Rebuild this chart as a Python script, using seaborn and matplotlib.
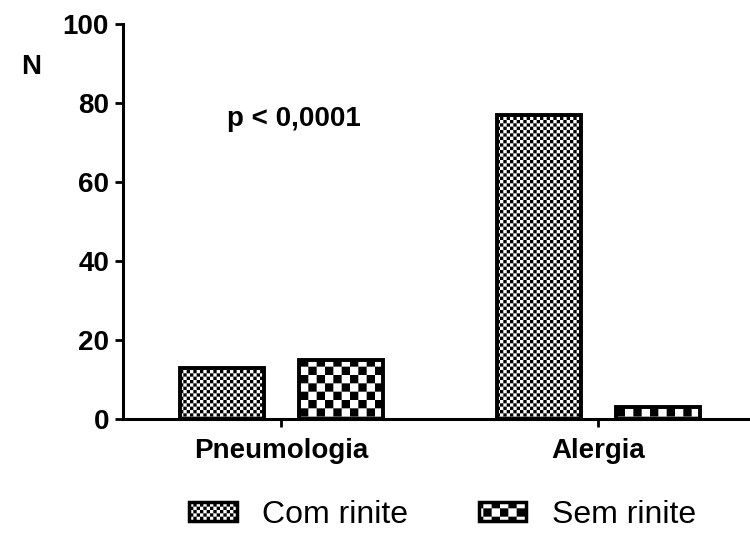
import numpy as np
import pandas as pd
import matplotlib
matplotlib.use('Agg')
import matplotlib.pyplot as plt
import matplotlib.hatch as mhatch
from matplotlib.path import Path
from matplotlib.patches import Patch
import seaborn as sns

# ---------------- data ----------------
categories = ['Pneumologia', 'Alergia']
groups = ['Com rinite', 'Sem rinite']
com_rinite = [13, 77]
sem_rinite = [15, 3]
y_ticks = [0, 20, 40, 60, 80, 100]
annotation = 'p < 0,0001'
y_label = 'N'


# ------------- checkerboard hatch (style only) -------------
class CheckerHatch(mhatch.HatchPatternBase):
    """'.' -> fine checkerboard, 'O' -> coarse checkerboard."""
    def __init__(self, hatch, density):
        self.n = 0
        if '.' in hatch:
            self.n = 30
        elif 'O' in hatch:
            self.n = 12
        self.num_vertices = (self.n * self.n // 2) * 5 if self.n else 0

    def set_vertices_and_codes(self, vertices, codes):
        s = 1.0 / self.n
        sq = np.array([[0, 0], [s, 0], [s, s], [0, s], [0, 0]], float)
        cd = [Path.MOVETO, Path.LINETO, Path.LINETO, Path.LINETO, Path.CLOSEPOLY]
        k = 0
        for r in range(self.n):
            for c in range(self.n):
                if (r + c) % 2 == 0:
                    vertices[k * 5:(k + 1) * 5] = sq + [c * s, r * s]
                    codes[k * 5:(k + 1) * 5] = cd
                    k += 1


mhatch._hatch_types = [CheckerHatch]

sns.set_style('ticks')
plt.rcParams['font.family'] = ['Liberation Sans', 'DejaVu Sans']
plt.rcParams['hatch.linewidth'] = 0.0
plt.rcParams['hatch.color'] = 'black'
plt.rcParams['text.color'] = 'black'
plt.rcParams['axes.labelcolor'] = 'black'
plt.rcParams['xtick.color'] = 'black'
plt.rcParams['ytick.color'] = 'black'
plt.rcParams['axes.edgecolor'] = 'black'

df = pd.DataFrame({
    'category': categories * 2,
    'group': [groups[0]] * len(categories) + [groups[1]] * len(categories),
    'value': com_rinite + sem_rinite,
})

fig = plt.figure(figsize=(7.5, 5.34), dpi=100)
ax = fig.add_axes([0.164, 0.2154, 0.836, 0.7397])

sns.barplot(data=df, x='category', y='value', hue='group', order=categories,
            hue_order=groups, palette=['white', 'white'], edgecolor='black',
            linewidth=2.8, width=0.75, gap=0.3, legend=False, ax=ax)

hatches = ['.', 'O']
for cont, h in zip(ax.containers, hatches):
    for bar in cont:
        bar.set_hatch(h)

ax.set_xlim(-0.5, 1.478)
ax.set_ylim(0, 100)
ax.set_yticks(y_ticks)
ax.set_xlabel('')
ax.set_ylabel(y_label, rotation=0, fontsize=20, fontweight='bold',
              va='center', ha='center')
ax.yaxis.set_label_coords(-0.147, 0.89)

sns.despine(ax=ax)
for sp in ['left', 'bottom']:
    ax.spines[sp].set_linewidth(2.2)
ax.tick_params(axis='both', length=6, width=2, labelsize=20, pad=4,
               color='black', labelcolor='black')
ax.tick_params(axis='x', pad=8)
for lab in ax.get_xticklabels() + ax.get_yticklabels():
    lab.set_fontweight('bold')

ax.text(0.04, 76, annotation, ha='center', va='center', fontsize=20,
        fontweight='bold')

handles = [Patch(facecolor='white', edgecolor='black', linewidth=2.5, hatch=h)
           for h in hatches]
fig.legend(handles, groups, loc='center', bbox_to_anchor=(0.59, 0.036),
           ncol=2, frameon=False, fontsize=23, handlelength=1.5,
           handleheight=0.55, handletextpad=0.8, columnspacing=2.2,
           borderpad=0, borderaxespad=0)

fig.savefig('out.png', dpi=100, facecolor='white')
